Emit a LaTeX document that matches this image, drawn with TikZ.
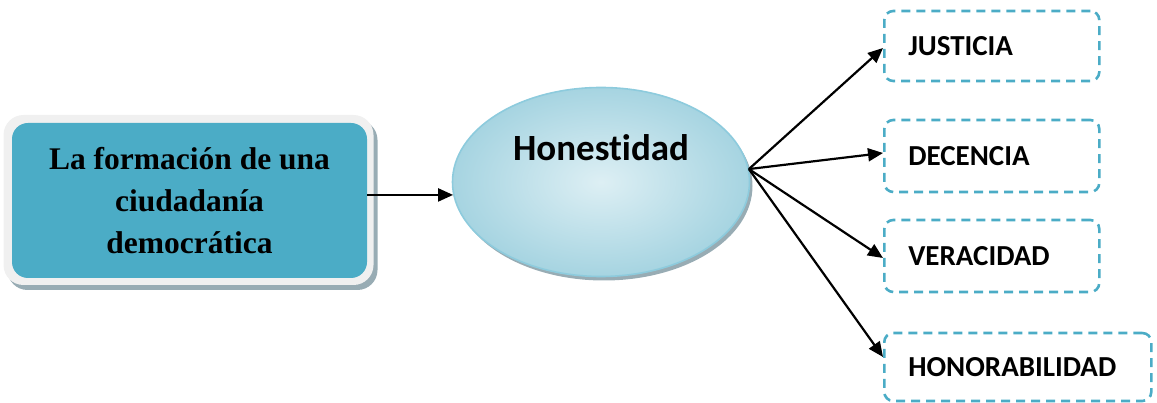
\documentclass[tikz,border=0pt]{standalone}
\usepackage{fontspec}
\setmainfont{Liberation Serif}
\newfontfamily\calibri[Ligatures=NoCommon]{Carlito}
\usetikzlibrary{shapes.geometric,arrows.meta,shadows}
\definecolor{teal5}{HTML}{4BACC6}
\definecolor{framegray}{HTML}{F0F0F0}
\definecolor{shadowgray}{HTML}{98ACB4}
\definecolor{ellin}{HTML}{DDEFF4}
\definecolor{ellout}{HTML}{A6D4E1}
\definecolor{ellborder}{HTML}{8DCBDD}
\tikzset{
  arr/.style={draw=black, line width=2.2pt, -{Triangle[length=15pt,width=13pt]}},
  dbox/.style={draw=teal5, line width=2.6pt, dash pattern=on 9pt off 6pt,
    rounded corners=9pt, anchor=west, minimum height=70pt, inner xsep=24pt,
    align=left, font=\calibri\bfseries\fontsize{29}{33}\selectfont},
}
\begin{document}
\begin{tikzpicture}[x=1pt,y=-1pt]
\useasboundingbox (0,0) rectangle (1157,403);
% left box
\node[draw=none, fill=framegray, rounded corners=20pt, minimum width=370pt, minimum height=170pt,
  drop shadow={shadow xshift=4pt, shadow yshift=-5pt, fill=shadowgray, opacity=1}] (lframe) at (188.5,200) {};
\node[fill=teal5, rounded corners=16pt, minimum width=355pt, minimum height=155pt,
  align=center, font=\bfseries\fontsize{31.5}{42}\selectfont] (lbox) at (189.5,200.5)
  {La formación de una\\ciudadanía\\democrática};
% ellipse
\node[ellipse, draw=ellborder, line width=1.6pt, minimum width=297pt, minimum height=189pt,
  inner color=ellin, outer color=ellout,
  drop shadow={shadow xshift=3pt, shadow yshift=-4pt, fill=shadowgray, opacity=1},
  label={[font=\calibri\bfseries\fontsize{37}{40}\selectfont, yshift=34pt]center:Honestidad}] (hon) at (601,182) {};
% right boxes
\node[dbox, minimum width=215pt, text width=167pt] (jus) at (883,46) {JUSTICIA};
\node[dbox, minimum width=215pt, text width=167pt, minimum height=72pt] (dec) at (883,156) {DECENCIA};
\node[dbox, minimum width=215pt, text width=167pt, minimum height=72pt] (ver) at (883,256) {VERACIDAD};
\node[dbox, minimum width=267pt, text width=219pt, minimum height=68pt] (hnr) at (883,367) {HONORABILIDAD};
% arrows
\draw[arr] (lbox.east |- hon.185) -- (hon.185);
\draw[arr] (hon.5) -- ([yshift=-2pt]jus.west);
\draw[arr] (hon.5) -- ([yshift=3pt]dec.west);
\draw[arr] (hon.5) -- ([yshift=-2pt]ver.west);
\draw[arr] (hon.5) -- ([yshift=10pt]hnr.west);
\end{tikzpicture}
\end{document}
